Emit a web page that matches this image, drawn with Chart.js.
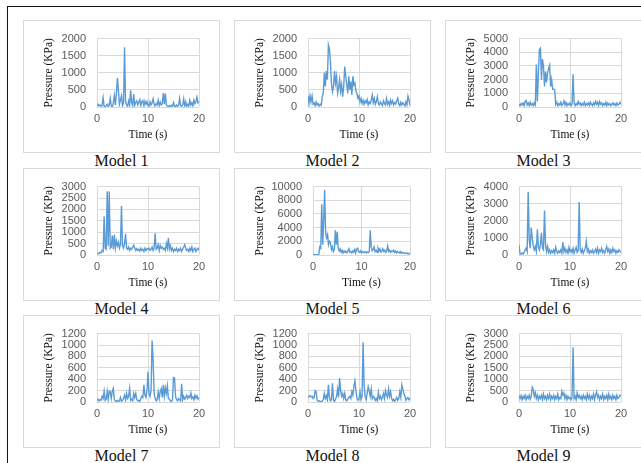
<!DOCTYPE html>
<html>
<head>
<meta charset="utf-8">
<script src="https://cdn.jsdelivr.net/npm/chart.js@4"></script>
<style>
  html, body { margin: 0; padding: 0; background: #fff; }
  body { width: 641px; height: 463px; position: relative; overflow: hidden; }
  .frame { position: absolute; left: 7px; top: 6px; width: 700px; height: 500px; border-left: 1px solid #111; border-top: 1px solid #111; }
  .panel { position: absolute; box-sizing: border-box; width: 197px; height: 133px; border: 1px solid #d9d9d9; background: #fff; }
  .panel canvas { display: block; }
  .caption { position: absolute; width: 197px; text-align: center; font: 16px/16px "Liberation Serif", serif; color: #111; }
</style>
</head>
<body>
<div class="frame"></div>
<script>
// time axis, seconds
const time = [
  0, 0.2, 0.4, 0.6, 0.8, 1, 1.2, 1.4, 1.6, 1.8,
  2, 2.2, 2.4, 2.6, 2.8, 3, 3.2, 3.4, 3.6, 3.8,
  4, 4.2, 4.4, 4.6, 4.8, 5, 5.2, 5.4, 5.6, 5.8,
  6, 6.2, 6.4, 6.6, 6.8, 7, 7.2, 7.4, 7.6, 7.8,
  8, 8.2, 8.4, 8.6, 8.8, 9, 9.2, 9.4, 9.6, 9.8,
  10, 10.2, 10.4, 10.6, 10.8, 11, 11.2, 11.4, 11.6, 11.8,
  12, 12.2, 12.4, 12.6, 12.8, 13, 13.2, 13.4, 13.6, 13.8,
  14, 14.2, 14.4, 14.6, 14.8, 15, 15.2, 15.4, 15.6, 15.8,
  16, 16.2, 16.4, 16.6, 16.8, 17, 17.2, 17.4, 17.6, 17.8,
  18, 18.2, 18.4, 18.6, 18.8, 19, 19.2, 19.4, 19.6, 19.8,
  20
];

// pressure (KPa) per model
const model1 = [
  40, 80, 30, 60, 20, 40, 270, 20, 10, 30,
  80, 20, 60, 250, 30, 10, 120, 330, 60, 400,
  850, 480, 80, 200, 330, 40, 120, 1750, 150, 60,
  20, 180, 60, 490, 120, 40, 380, 50, 130, 180,
  60, 140, 210, 40, 160, 190, 30, 170, 80, 160,
  40, 30, 150, 60, 120, 240, 80, 30, 100, 60,
  200, 40, 140, 60, 90, 410, 80, 390, 60, 30,
  10, 40, 20, 50, 20, 130, 30, 10, 60, 20,
  50, 250, 40, 20, 60, 240, 30, 150, 20, 80,
  30, 200, 60, 120, 30, 200, 100, 160, 290, 120,
  150
];
const model2 = [
  320, 100, 330, 150, 320, 80, 120, 40, 150, 60,
  100, 30, 80, 50, 300, 420, 1000, 600, 1050, 800,
  1820, 1700, 1300, 700, 450, 600, 1050, 700, 900, 400,
  550, 800, 450, 650, 300, 600, 1180, 900, 650, 400,
  900, 500, 750, 350, 900, 650, 700, 450, 400, 250,
  320, 150, 250, 100, 200, 80, 180, 120, 220, 60,
  150, 100, 200, 350, 120, 250, 80, 160, 300, 100,
  60, 150, 90, 40, 180, 100, 60, 250, 80, 150,
  50, 200, 100, 180, 60, 130, 90, 180, 260, 80,
  40, 140, 60, 120, 80, 30, 150, 60, 320, 200,
  40
];
const model3 = [
  200, 100, 250, 150, 300, 100, 400, 480, 150, 300,
  100, 350, 150, 250, 100, 300, 150, 3100, 400, 2500,
  4200, 4300, 2000, 3500, 3000, 1500, 2600, 1800, 2500, 2800,
  3050, 1500, 2000, 1300, 1300, 1250, 200, 350, 100, 250,
  150, 350, 100, 200, 450, 150, 350, 100, 250, 150,
  300, 100, 200, 2400, 300, 100, 250, 150, 400, 200,
  300, 100, 250, 150, 350, 100, 250, 150, 300, 120,
  350, 200, 100, 300, 150, 400, 200, 350, 100, 400,
  200, 300, 100, 250, 150, 350, 100, 300, 150, 250,
  100, 200, 300, 150, 250, 100, 300, 150, 200, 350,
  200
];
const model4 = [
  50, 80, 60, 120, 100, 200, 150, 1700, 300, 250,
  2800, 400, 2780, 300, 350, 850, 250, 900, 300, 620,
  400, 560, 300, 450, 2150, 400, 300, 500, 930, 300,
  250, 350, 200, 300, 250, 350, 420, 300, 200, 280,
  200, 250, 180, 300, 200, 250, 150, 300, 200, 280,
  250, 300, 200, 250, 350, 200, 300, 950, 250, 300,
  450, 200, 420, 300, 350, 250, 300, 200, 500, 300,
  750, 250, 400, 200, 300, 150, 250, 200, 300, 150,
  250, 200, 300, 150, 250, 350, 450, 300, 200, 250,
  150, 300, 200, 350, 150, 250, 300, 150, 250, 300,
  200
];
const model5 = [
  50, 30, 60, 20, 50, 30, 100, 1200, 1000, 7400,
  1500, 5000, 9500, 3200, 2500, 3000, 1500, 2000, 1800, 800,
  1200, 500, 800, 3600, 1500, 3400, 1000, 600, 900, 400,
  700, 300, 600, 400, 500, 300, 600, 900, 400, 500,
  300, 600, 400, 800, 300, 900, 1000, 500, 400, 600,
  300, 500, 400, 350, 500, 300, 450, 350, 500, 3600,
  1200, 600, 800, 1200, 500, 700, 400, 1000, 600, 900,
  400, 600, 900, 500, 700, 400, 600, 1300, 500, 700,
  400, 600, 500, 700, 400, 600, 300, 500, 400, 300,
  500, 250, 400, 300, 200, 350, 250, 300, 150, 250,
  100
];
const model6 = [
  600, 100, 50, 120, 60, 150, 300, 400, 200, 3700,
  900, 400, 1600, 1000, 500, 300, 500, 200, 1500, 500,
  300, 600, 1300, 400, 300, 2600, 600, 200, 500, 150,
  300, 100, 250, 150, 300, 100, 450, 200, 100, 250,
  150, 300, 100, 750, 200, 400, 150, 300, 100, 450,
  200, 300, 150, 400, 100, 300, 450, 150, 250, 3100,
  300, 150, 350, 100, 250, 400, 800, 200, 350, 100,
  250, 150, 300, 100, 200, 350, 150, 400, 100, 300,
  200, 400, 150, 250, 100, 300, 500, 200, 350, 100,
  300, 150, 400, 200, 300, 100, 250, 150, 300, 200,
  150
];
const model7 = [
  30, 50, 20, 40, 30, 100, 60, 190, 30, 50,
  190, 40, 190, 180, 60, 190, 240, 40, 20, 10,
  30, 10, 20, 80, 10, 30, 60, 120, 40, 150,
  60, 100, 240, 30, 50, 20, 150, 80, 150, 40,
  20, 30, 10, 60, 100, 80, 300, 120, 80, 200,
  530, 150, 100, 200, 1080, 750, 150, 60, 20, 40,
  180, 60, 180, 230, 80, 300, 100, 250, 150, 280,
  60, 50, 20, 10, 40, 430, 420, 100, 40, 20,
  60, 40, 20, 320, 40, 100, 50, 80, 120, 60,
  100, 80, 160, 60, 90, 40, 120, 70, 110, 50,
  80
];
const model8 = [
  80, 100, 110, 90, 100, 60, 80, 200, 180, 30,
  10, 20, 10, 5, 20, 40, 150, 60, 110, 40,
  300, 80, 20, 40, 330, 30, 10, 50, 100, 230,
  80, 420, 200, 100, 150, 60, 150, 40, 20, 50,
  80, 100, 60, 180, 120, 280, 370, 200, 60, 30,
  60, 180, 40, 100, 1050, 300, 100, 40, 150, 270,
  200, 100, 230, 60, 100, 80, 30, 60, 20, 170,
  60, 100, 40, 80, 150, 60, 200, 120, 80, 230,
  100, 180, 60, 20, 50, 10, 40, 80, 30, 60,
  180, 80, 300, 220, 150, 100, 30, 60, 80, 40,
  70
];
const model9 = [
  300, 150, 280, 100, 250, 150, 300, 100, 250, 150,
  300, 120, 250, 650, 550, 250, 400, 150, 300, 100,
  250, 150, 300, 100, 350, 150, 250, 100, 300, 150,
  350, 100, 250, 150, 300, 100, 250, 150, 350, 100,
  200, 150, 470, 300, 400, 150, 300, 100, 250, 150,
  200, 100, 200, 2400, 150, 250, 100, 400, 200, 300,
  150, 250, 100, 300, 150, 250, 100, 350, 150, 300,
  100, 250, 150, 350, 100, 300, 450, 200, 300, 100,
  250, 150, 350, 100, 250, 150, 300, 100, 350, 150,
  250, 100, 300, 150, 250, 100, 300, 150, 200, 300,
  250
];

const captions = ['Model 1', 'Model 2', 'Model 3', 'Model 4', 'Model 5', 'Model 6', 'Model 7', 'Model 8', 'Model 9'];
const series = [model1, model2, model3, model4, model5, model6, model7, model8, model9];
const yMax = [2000, 2000, 5000, 3000, 10000, 4000, 1200, 1200, 3000];
const yStep = [500, 500, 1000, 500, 2000, 1000, 200, 200, 500];

// panel grid placement
const colX = [23, 234, 445];
const rowY = [20, 168, 315];

const tickFont = { family: '"Liberation Sans", Arial, sans-serif', size: 11 };
const titleFont = { family: '"Liberation Serif", "Times New Roman", serif', size: 11.5 };

series.forEach((values, i) => {
  const left = colX[i % 3];
  const top = rowY[Math.floor(i / 3)];

  const panel = document.createElement('div');
  panel.className = 'panel';
  panel.style.left = left + 'px';
  panel.style.top = top + 'px';
  const canvas = document.createElement('canvas');
  canvas.width = 195;
  canvas.height = 131;
  panel.appendChild(canvas);
  document.body.appendChild(panel);

  const cap = document.createElement('div');
  cap.className = 'caption';
  cap.style.left = left + 'px';
  cap.style.top = (top + 133) + 'px';
  cap.textContent = captions[i];
  document.body.appendChild(cap);

  const yWidth = yMax[i] >= 10000 ? 78 : 73;

  new Chart(canvas.getContext('2d'), {
    type: 'line',
    data: {
      labels: time,
      datasets: [{
        data: values,
        borderColor: '#5B9BD5',
        borderWidth: 1.4,
        pointRadius: 0,
        tension: 0,
        fill: false
      }]
    },
    options: {
      responsive: false,
      animation: false,
      layout: { padding: { top: 10, right: 20, left: 0, bottom: 0 } },
      plugins: { legend: { display: false }, tooltip: { enabled: false } },
      scales: {
        x: {
          type: 'linear',
          min: 0,
          max: 20,
          ticks: { stepSize: 10, padding: 5, maxRotation: 0, autoSkip: false, color: '#595959', font: tickFont, callback: v => String(v) },
          grid: { color: '#d9d9d9', drawTicks: false },
          border: { display: false },
          title: { display: true, text: 'Time (s)', color: '#111', font: titleFont, padding: { top: 0, bottom: 10 } },
          afterFit: s => { s.height = 45; }
        },
        y: {
          min: 0,
          max: yMax[i],
          ticks: { stepSize: yStep[i], padding: 11, autoSkip: false, color: '#595959', font: tickFont, callback: v => String(v) },
          grid: { color: '#d9d9d9', drawTicks: false },
          border: { display: false },
          title: { display: true, text: 'Pressure (KPa)', color: '#111', font: titleFont, padding: { top: 18, bottom: 0 } },
          afterFit: s => { s.width = yWidth; }
        }
      }
    }
  });
});
</script>
</body>
</html>
